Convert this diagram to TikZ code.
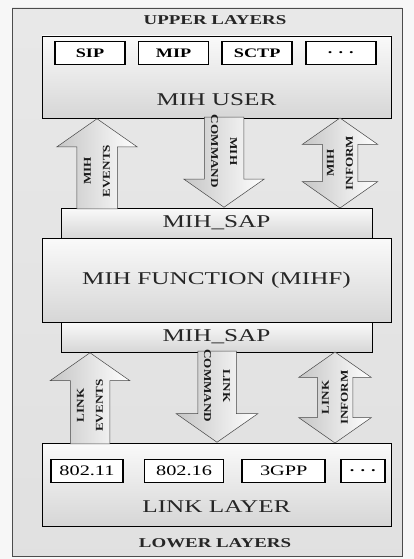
\documentclass[tikz,border=0pt]{standalone}
\usepackage{fontspec}
\setmainfont{Liberation Serif}
\newfontfamily\wideserif[FakeStretch=1.4]{Liberation Serif}
\newfontfamily\arrowserif[FakeStretch=1.25]{Liberation Serif}
\usepackage{tikz}
\usetikzlibrary{shapes.arrows, positioning, calc}

\tikzset{
  layerbox/.style={draw=black, line width=0.9pt, top color=gray!4, bottom color=gray!32,
    minimum width=349pt, inner sep=0pt},
  sapbox/.style={layerbox, minimum width=311pt, minimum height=30pt,
    font=\wideserif\fontsize{18}{20}\selectfont, text=black!85},
  protobox/.style={draw=black, line width=1.6pt, fill=white, minimum height=23pt, inner sep=0pt},
  bigtext/.style={font=\wideserif\fontsize{18}{20}\selectfont, text=black!85},
  titletext/.style={font=\wideserif\bfseries\fontsize{13.5}{15}\selectfont, text=black!85},
  blockarrow/.style={draw=gray!55!black, line width=0.5pt, inner xsep=0pt,
    left color=gray!45, right color=white},
  singlearrow/.style={blockarrow, single arrow, anchor=tip, minimum height=90pt,
    single arrow tip angle=110},
  uparrow/.style={singlearrow, rotate=90},
  downarrow/.style={singlearrow, rotate=-90},
  twoarrow/.style={blockarrow, double arrow, rotate=90, minimum height=90pt,
    double arrow tip angle=110},
  arrowlabel/.style={font=\arrowserif\bfseries\fontsize{10.5}{19}\selectfont, align=center,
    inner sep=0pt, text=black!90}
}

\begin{document}
\begin{tikzpicture}[x=1pt, y={(0pt,-1pt)}]
\useasboundingbox[fill=gray!6] (0,0) rectangle (414,559);
\draw[draw=gray!60!black, line width=0.6pt, top color=gray!18, bottom color=gray!24]
  (12,8) rectangle (402,556);

% upper layers
\node[titletext] (upper) at (215,20) {UPPER LAYERS};
\node[layerbox, minimum height=82pt] (user) at (216.5,77) {};
\node[protobox, minimum width=70pt, font=\wideserif\bfseries\fontsize{13}{15}\selectfont]
  (sip) at (90,53) {SIP};
\node[protobox, minimum width=70pt, right=12pt of sip, font=\wideserif\bfseries\fontsize{13}{15}\selectfont]
  (mip) {MIP};
\node[protobox, minimum width=70pt, right=12pt of mip, font=\wideserif\bfseries\fontsize{13}{15}\selectfont]
  (sctp) {SCTP};
\node[protobox, minimum width=70pt, right=12pt of sctp, font=\wideserif\bfseries\fontsize{13}{15}\selectfont]
  (udots) {. . .};
\node[bigtext] (usertext) at ($(user.center)+(0,23)$) {MIH USER};

% MIH function with its two SAPs
\node[sapbox] (sapup) at (216.5,223) {MIH\_SAP};
\node[layerbox, minimum height=84pt, font=\wideserif\fontsize{18}{20}\selectfont, text=black!85]
  (mihf) at (216.5,280) {MIH FUNCTION (MIHF)};
\node[sapbox] (sapdown) at (216.5,337) {MIH\_SAP};

% link layer
\node[layerbox, minimum height=83pt] (link) at (216.5,484.5) {};
\node[protobox, minimum width=72pt, font=\wideserif\fontsize{14.5}{16}\selectfont]
  (wifi) at (87,471) {802.11};
\node[protobox, minimum width=79pt, right=20pt of wifi, font=\wideserif\fontsize{14.5}{16}\selectfont]
  (wimax) {802.16};
\node[protobox, minimum width=83pt, right=17pt of wimax, font=\wideserif\fontsize{14.5}{16}\selectfont]
  (gpp) {3GPP};
\node[protobox, minimum width=44pt, right=14pt of gpp, font=\wideserif\bfseries\fontsize{13}{15}\selectfont]
  (ldots) {. . .};
\node[bigtext] (linktext) at ($(link.center)+(0,22.5)$) {LINK LAYER};
\node[titletext] (lower) at (215,543) {LOWER LAYERS};

% block arrows between user and MIHF
\node[uparrow, inner ysep=20pt, single arrow head extend=20pt] (mihev) at (user.south -| 97,0) {};
\node[downarrow, inner ysep=19.5pt, single arrow head extend=20.5pt] (mihcmd) at (sapup.north -| 224,0) {};
\node[twoarrow, inner ysep=17.5pt, double arrow head extend=20pt]
  (mihinf) at ($(user.south -| 340,0)!0.5!(sapup.north -| 340,0)$) {};
\node[arrowlabel, rotate=90] at ($(mihev.tail)!0.42!(mihev.tip)$) {MIH\\EVENTS};
\node[arrowlabel, rotate=-90] at ($(mihcmd.tail)!0.38!(mihcmd.tip)$) {MIH\\COMMAND};
\node[arrowlabel, rotate=90] at (mihinf.center) {MIH\\INFORM};

% block arrows between MIHF and link layer
\node[uparrow, minimum height=91pt, inner ysep=19.5pt, single arrow head extend=20pt] (linkev) at (sapdown.south -| 90,0) {};
\node[downarrow, minimum height=91pt, inner ysep=19pt, single arrow head extend=21.5pt] (linkcmd) at (link.north -| 217,0) {};
\node[twoarrow, minimum height=91pt, inner ysep=17.5pt, double arrow head extend=18.5pt]
  (linkinf) at ($(sapdown.south -| 335,0)!0.5!(link.north -| 335,0)$) {};
\node[arrowlabel, rotate=90] at ($(linkev.tail)!0.42!(linkev.tip)$) {LINK\\EVENTS};
\node[arrowlabel, rotate=-90] at ($(linkcmd.tail)!0.38!(linkcmd.tip)$) {LINK\\COMMAND};
\node[arrowlabel, rotate=90] at (linkinf.center) {LINK\\INFORM};
\end{tikzpicture}
\end{document}
